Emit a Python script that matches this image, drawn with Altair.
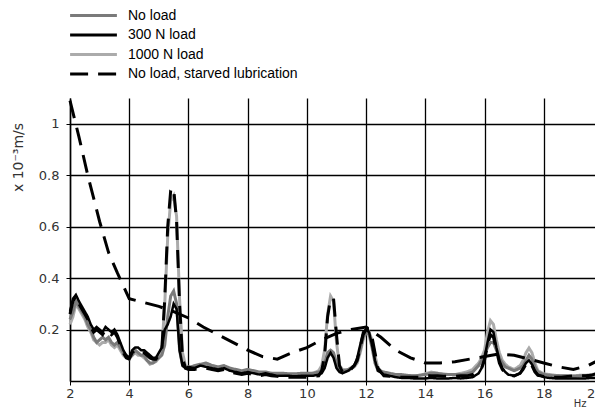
import altair as alt
import pandas as pd

SERIES = ["No load", "300 N load", "1000 N load", "No load, starved lubrication"]
COLORS = ["#7a7a7a", "#000000", "#ababab", "#000000"]
DASHES = [[1, 0], [1, 0], [1, 0], [18, 10]]
X_TICKS = [2, 4, 6, 8, 10, 12, 14, 16, 18, 20]
Y_TICKS = [0.2, 0.4, 0.6, 0.8, 1.0]

freq = [
    2.0, 2.1, 2.2, 2.3, 2.4, 2.5, 2.6, 2.7, 2.8, 2.9, 3.0, 3.1, 3.2, 3.3, 3.4, 3.5, 3.6, 3.7, 3.8, 3.9,
    4.0, 4.1, 4.2, 4.3, 4.4, 4.5, 4.6, 4.7, 4.8, 4.9, 5.0, 5.1, 5.2, 5.3, 5.4, 5.5, 5.6, 5.7, 5.8, 5.9, 6.0,
    6.2, 6.4, 6.6, 6.8, 7.0, 7.2, 7.4, 7.6, 7.8, 8.0, 8.2, 8.4, 8.6, 8.8, 9.0, 9.2, 9.4, 9.6, 9.8, 10.0, 10.2, 10.4,
    10.5, 10.6, 10.7, 10.8, 10.9, 11.0, 11.1, 11.2,
    11.4, 11.6,
    11.7, 11.8, 11.9, 12.0, 12.1, 12.2, 12.3, 12.4,
    12.6, 12.8, 13.0, 13.2, 13.4, 13.6, 13.8, 14.0, 14.2, 14.4, 14.6, 14.8, 15.0, 15.2, 15.4, 15.6, 15.8,
    15.9, 16.0, 16.1, 16.2, 16.3, 16.4, 16.5, 16.6, 16.7, 16.8,
    17.0, 17.2,
    17.3, 17.4, 17.5, 17.6, 17.7, 17.8,
    18.0, 18.2, 18.4, 18.6, 18.8, 19.0, 19.2, 19.4, 19.6, 19.8, 20.0,
]

no_load = [
    0.24, 0.27, 0.31, 0.29, 0.27, 0.25, 0.22, 0.20, 0.17, 0.15, 0.16, 0.17, 0.16, 0.17, 0.15, 0.14, 0.15, 0.13, 0.11, 0.10,
    0.09, 0.10, 0.12, 0.11, 0.10, 0.10, 0.08, 0.07, 0.07, 0.08, 0.09, 0.10, 0.14, 0.25, 0.33, 0.35, 0.30, 0.12, 0.06, 0.05, 0.05,
    0.06, 0.065, 0.07, 0.06, 0.055, 0.06, 0.05, 0.045, 0.04, 0.045, 0.04, 0.035, 0.035, 0.03, 0.03, 0.03, 0.028, 0.028, 0.03, 0.03, 0.03, 0.035,
    0.04, 0.07, 0.11, 0.12, 0.11, 0.07, 0.045, 0.04,
    0.045, 0.06,
    0.08, 0.12, 0.17, 0.19, 0.18, 0.13, 0.07, 0.04,
    0.035, 0.03, 0.025, 0.025, 0.022, 0.02, 0.022, 0.025, 0.03, 0.03, 0.025, 0.025, 0.025, 0.025, 0.028, 0.035, 0.06,
    0.08, 0.10, 0.13, 0.15, 0.15, 0.12, 0.09, 0.07, 0.055, 0.05,
    0.04, 0.05,
    0.06, 0.08, 0.10, 0.085, 0.055, 0.035,
    0.025, 0.022, 0.02, 0.02, 0.02, 0.018, 0.02, 0.02, 0.022, 0.025, 0.028,
]

load_300 = [
    0.27, 0.32, 0.335, 0.31, 0.29, 0.27, 0.25, 0.22, 0.20, 0.21, 0.20, 0.19, 0.21, 0.20, 0.19, 0.20, 0.18, 0.15, 0.12, 0.10,
    0.09, 0.12, 0.13, 0.13, 0.12, 0.12, 0.11, 0.10, 0.09, 0.09, 0.11, 0.13, 0.20, 0.22, 0.25, 0.30, 0.28, 0.12, 0.06, 0.05, 0.055,
    0.05, 0.06, 0.055, 0.05, 0.045, 0.05, 0.04, 0.035, 0.03, 0.035, 0.03, 0.025, 0.03, 0.025, 0.02, 0.02, 0.02, 0.018, 0.02, 0.02, 0.02, 0.025,
    0.03, 0.05, 0.09, 0.11, 0.09, 0.05, 0.035, 0.03,
    0.04, 0.06,
    0.09, 0.14, 0.19, 0.20, 0.19, 0.14, 0.08, 0.04,
    0.025, 0.02, 0.015, 0.012, 0.012, 0.01, 0.01, 0.01, 0.012, 0.01, 0.01, 0.01, 0.012, 0.01, 0.012, 0.015, 0.03,
    0.05, 0.09, 0.15, 0.20, 0.19, 0.13, 0.08, 0.05, 0.035, 0.025,
    0.02, 0.03,
    0.05, 0.07, 0.08, 0.065, 0.04, 0.025,
    0.015, 0.012, 0.01, 0.01, 0.01, 0.01, 0.01, 0.01, 0.012, 0.012, 0.015,
]

load_1000 = [
    0.22, 0.25, 0.30, 0.28, 0.26, 0.24, 0.21, 0.19, 0.16, 0.15, 0.14, 0.15, 0.15, 0.16, 0.14, 0.13, 0.14, 0.12, 0.10, 0.09,
    0.085, 0.10, 0.11, 0.10, 0.10, 0.09, 0.08, 0.065, 0.07, 0.075, 0.09, 0.12, 0.30, 0.56, 0.70, 0.72, 0.64, 0.32, 0.11, 0.06, 0.055,
    0.055, 0.06, 0.065, 0.06, 0.05, 0.055, 0.045, 0.04, 0.035, 0.04, 0.035, 0.03, 0.03, 0.03, 0.025, 0.025, 0.025, 0.025, 0.025, 0.028, 0.03, 0.04,
    0.06, 0.12, 0.26, 0.33, 0.31, 0.15, 0.06, 0.045,
    0.04, 0.055,
    0.07, 0.11, 0.16, 0.19, 0.19, 0.16, 0.10, 0.05,
    0.03, 0.025, 0.022, 0.02, 0.02, 0.02, 0.022, 0.028, 0.035, 0.03, 0.028, 0.025, 0.025, 0.03, 0.035, 0.045, 0.07,
    0.09, 0.12, 0.19, 0.235, 0.22, 0.16, 0.11, 0.08, 0.065, 0.055,
    0.045, 0.06,
    0.08, 0.11, 0.128, 0.11, 0.07, 0.04,
    0.028, 0.025, 0.022, 0.02, 0.02, 0.02, 0.022, 0.022, 0.025, 0.028, 0.03,
]

starved_spectrum = [
    0.26, 0.31, 0.33, 0.30, 0.28, 0.26, 0.24, 0.21, 0.19, 0.20, 0.19, 0.18, 0.20, 0.19, 0.18, 0.19, 0.17, 0.14, 0.11, 0.09,
    0.085, 0.11, 0.12, 0.12, 0.11, 0.11, 0.10, 0.09, 0.085, 0.085, 0.10, 0.12, 0.32, 0.60, 0.74, 0.75, 0.62, 0.30, 0.09, 0.05, 0.045,
    0.045, 0.05, 0.05, 0.045, 0.04, 0.045, 0.035, 0.03, 0.025, 0.03, 0.025, 0.02, 0.025, 0.02, 0.018, 0.015, 0.015, 0.015, 0.015, 0.015, 0.018, 0.02,
    0.04, 0.10, 0.25, 0.32, 0.32, 0.18, 0.06, 0.035,
    0.035, 0.06,
    0.08, 0.13, 0.18, 0.20, 0.20, 0.17, 0.11, 0.05,
    0.02, 0.018, 0.015, 0.015, 0.015, 0.015, 0.015, 0.02, 0.02, 0.02, 0.018, 0.018, 0.018, 0.02, 0.02, 0.025, 0.04,
    0.05, 0.08, 0.14, 0.18, 0.17, 0.12, 0.07, 0.045, 0.03, 0.025,
    0.02, 0.03,
    0.045, 0.065, 0.075, 0.06, 0.035, 0.022,
    0.018, 0.015, 0.015, 0.015, 0.018, 0.02, 0.02, 0.02, 0.022, 0.03, 0.04,
]

env_freq = [2.0, 2.3, 2.6, 3.0, 3.3, 3.6, 4.0, 4.5, 5.0, 5.5, 6.0, 6.5, 7.0, 7.5, 8.0, 8.5, 9.0, 9.5, 10.0,
            10.5, 11.0, 11.5, 12.0, 12.5, 13.0, 13.5, 14.0, 14.5, 15.0, 15.5, 16.0, 16.5, 17.0, 17.5, 18.0,
            18.5, 19.0, 19.5, 20.0]
env_vals = [1.09, 0.95, 0.80, 0.62, 0.50, 0.42, 0.32, 0.305, 0.29, 0.27, 0.245, 0.21, 0.18, 0.15, 0.12, 0.095,
            0.085, 0.11, 0.13, 0.16, 0.185, 0.20, 0.21, 0.17, 0.12, 0.09, 0.07, 0.07, 0.075, 0.085, 0.095, 0.105,
            0.10, 0.085, 0.07, 0.055, 0.045, 0.06, 0.09]

rows = []
for name, vals in [(SERIES[0], no_load), (SERIES[1], load_300), (SERIES[2], load_1000), (SERIES[3], starved_spectrum)]:
    for f, v in zip(freq, vals):
        rows.append({"f": f, "v": v, "series": name, "part": "spectrum"})
for f, v in zip(env_freq, env_vals):
    rows.append({"f": f, "v": v, "series": SERIES[3], "part": "envelope"})
df = pd.DataFrame(rows)

enc = dict(
    x=alt.X("f:Q", scale=alt.Scale(domain=[2, 20], nice=False, zero=False),
            axis=alt.Axis(values=X_TICKS, title="Hz", titleAnchor="end", titleAlign="right",
                          titleX=516, titleY=25, titleBaseline="alphabetic", titleFontSize=10,
                          titleFontWeight="normal", titleFont="DejaVu Sans", titleColor="#333",
                          labelPadding=2, labelFlush=False,
                          labelAlign={"expr": "datum.value >= 20 ? 'right' : 'center'"})),
    y=alt.Y("v:Q", scale=alt.Scale(domain=[0, 1.1], nice=False),
            axis=alt.Axis(values=Y_TICKS, format="~g", title="x 10⁻³m/s", titleAngle=-90,
                          titleX=-52, titleY=59, titleAlign="center", titleBaseline="middle",
                          titleFontSize=14, titleFontWeight="normal", titleFont="DejaVu Sans",
                          titleColor="#333", labelPadding=7)),
    color=alt.Color("series:N", scale=alt.Scale(domain=SERIES, range=COLORS), legend=alt.Legend(title=None)),
    strokeDash=alt.StrokeDash("series:N", scale=alt.Scale(domain=SERIES, range=DASHES), legend=alt.Legend(title=None)),
    detail="part:N",
)

order = [(SERIES[2], 3), (SERIES[0], 3), (SERIES[1], 2.5), (SERIES[3], 3)]
layers = [
    alt.Chart(df).transform_filter(alt.datum.series == name).mark_line(strokeWidth=w).encode(**enc)
    for name, w in order
]

chart = alt.layer(*layers).properties(
    width=533, height=283,
    autosize=alt.AutoSizeParams(type="none"),
    padding={"left": 62, "top": 90, "right": -8, "bottom": 27},
).configure_view(stroke=None).configure_axis(
    grid=True, gridColor="#000", gridWidth=1.3, gridOpacity=1,
    domainColor="#000", domainWidth=1.5, tickColor="#000", tickSize=4,
    labelFont="DejaVu Sans", labelFontSize=13, labelColor="#333",
).configure_legend(
    orient="none", legendX=16, legendY=-90, padding=0,
    symbolType="M-3.9,0H3.9", symbolSize=144, symbolStrokeWidth=3,
    labelFont="Liberation Sans", labelFontSize=14, labelColor="#000",
    labelOffset=27, rowPadding=4.5, labelLimit=0,
)

chart.save("out.html", embed_options={"renderer": "svg", "actions": False})
